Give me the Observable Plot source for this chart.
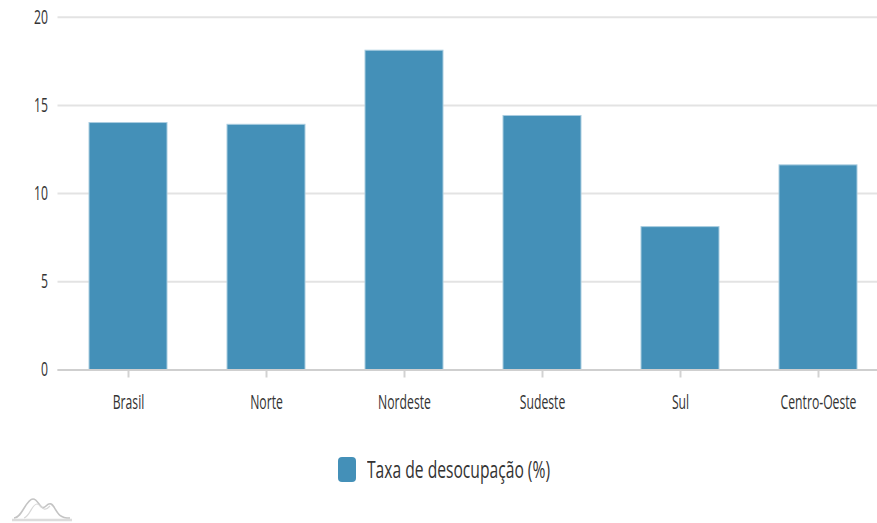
<!DOCTYPE html>
<html>
<head>
<meta charset="utf-8">
<script src="https://cdn.jsdelivr.net/npm/d3@7"></script>
<script src="https://cdn.jsdelivr.net/npm/@observablehq/plot@0.6"></script>
<style>
  body { margin: 0; background: #fff; font-family: "Open Sans", sans-serif; }
  #wrap { position: relative; width: 877px; height: 523px; overflow: hidden; background: #fff; }
  .legend { position: absolute; left: 338px; top: 457px; display: flex; align-items: center; height: 25px; }
  .swatch { width: 18px; height: 25px; border-radius: 4px; background: #4490b8; flex: none; }
  .legend span { display: inline-block; transform: scaleX(0.68); transform-origin: left center;
                 font-size: 23px; color: #333; margin-left: 11px; white-space: nowrap; line-height: 25px; }
  .logo { position: absolute; left: 10px; top: 494px; }
</style>
</head>
<body>
<div id="wrap"></div>
<script>
// Taxa de desocupação por grande região
const regioes = ["Brasil", "Norte", "Nordeste", "Sudeste", "Sul", "Centro-Oeste"];
const taxa = [14.0, 13.9, 18.1, 14.4, 8.1, 11.6];
const yTicks = [0, 5, 10, 15, 20];
const serie = "Taxa de desocupação (%)";

const barColor = "#4490b8";
const textScaleX = 0.61; // narrow lettering for the axis labels

const dados = regioes.map((regiao, i) => ({regiao, taxa: taxa[i]}));

const chart = Plot.plot({
  width: 877,
  height: 425,
  marginTop: 16.7,
  marginBottom: 55.5,
  marginLeft: 57.5,
  marginRight: 0,
  style: {fontFamily: '"Open Sans", sans-serif', fontSize: "20px", color: "#333", background: "#fff"},
  x: {domain: regioes, paddingInner: 0.433, paddingOuter: 0.18, align: 0.61, label: null},
  y: {domain: [0, 20], label: null},
  marks: [
    Plot.gridY(yTicks, {stroke: "#e3e3e3", strokeOpacity: 1, strokeWidth: 2}),
    Plot.axisY(yTicks, {tickSize: 0, tickPadding: 10, fontSize: 20, label: null}),
    Plot.axisX({tickSize: 8, tickPadding: 17, stroke: "#d2d2d2", strokeWidth: 2, fontSize: 20, label: null}),
    Plot.barY(dados, {x: "regiao", y: "taxa", fill: barColor, stroke: "#a9cde0", strokeWidth: 1}),
    Plot.ruleY([0], {stroke: "#cfcfcf", strokeWidth: 2})
  ]
});

// compress every label horizontally around its own anchor point
chart.querySelectorAll("text").forEach((t) => {
  const tr = t.getAttribute("transform") || "";
  t.setAttribute("transform", `${tr} scale(${textScaleX},1)`);
});

const wrap = document.getElementById("wrap");
wrap.appendChild(chart);

// legend
const legend = document.createElement("div");
legend.className = "legend";
const sw = document.createElement("div");
sw.className = "swatch";
sw.style.background = barColor;
const lab = document.createElement("span");
lab.textContent = serie;
legend.append(sw, lab);
wrap.appendChild(legend);

// small brand mark in the corner
const logo = document.createElement("div");
logo.className = "logo";
logo.innerHTML = `<svg width="66" height="29" viewBox="0 0 66 29">
  <path d="M4 24 C12 24 16 5 23 5 C29 5 30 18 36 12 C40 8 42 10 44 13 C48 20 50 24 60 24"
        fill="none" stroke="#c4c4c4" stroke-width="1.6"/>
  <path d="M14 24 C20 22 22 10 27 10 C31 10 33 20 40 12" fill="none" stroke="#d8d8d8" stroke-width="1.2"/>
  <line x1="2" y1="26" x2="62" y2="26" stroke="#dcdcdc" stroke-width="2.5"/>
</svg>`;
wrap.appendChild(logo);
</script>
</body>
</html>
